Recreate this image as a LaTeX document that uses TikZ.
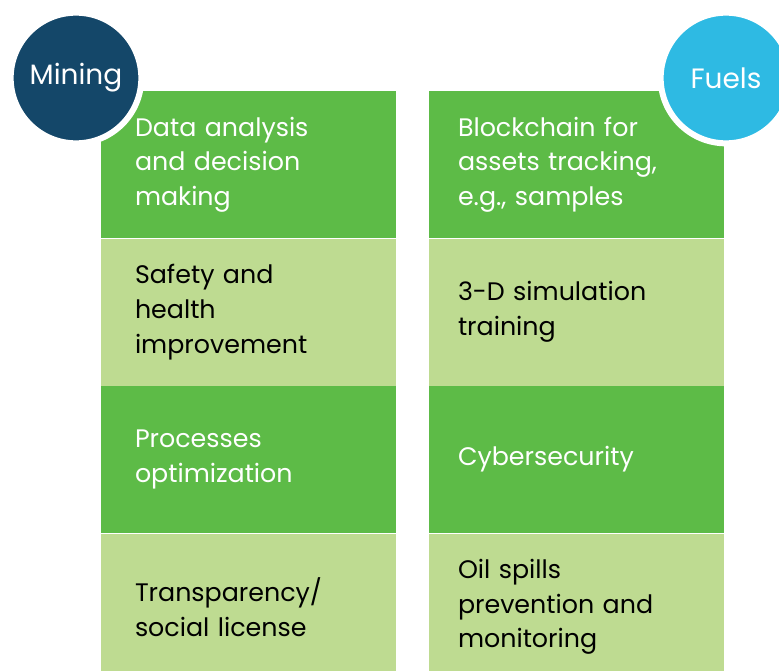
\documentclass[tikz,border=0pt]{standalone}
\usepackage{fontspec}
\setmainfont{Poppins}
\usetikzlibrary{positioning}
\definecolor{leafdark}{HTML}{5DBB47}
\definecolor{leaflight}{HTML}{BEDB91}
\definecolor{navyblue}{HTML}{144769}
\definecolor{skyblue}{HTML}{2EBAE3}
\newcommand\cellfont[0]{\fontsize{19pt}{26pt}\selectfont}

\begin{document}
\begin{tikzpicture}[x=0.75pt,y=-0.75pt,
  cell/.style={rectangle, minimum width=221.25pt, minimum height=110.25pt, inner ysep=0pt, align=left, font=\cellfont},
  darkcell/.style={cell, fill=leafdark, text=white},
  lightcell/.style={cell, fill=leaflight, text=black},
  lefttext/.style={inner xsep=25.5pt, text width=170.25pt},
  righttext/.style={inner xsep=21.75pt, text width=177.75pt},
  badge/.style={circle, minimum size=98pt, inner sep=0pt, draw=white, line width=4.5pt, text=white, font=\fontsize{21pt}{24pt}\selectfont}]

\useasboundingbox (0,0) rectangle (779,671);

% mining column
\node[darkcell, lefttext] (m1) at (248.5,164.5) {Data analysis\\and decision\\making};
\node[lightcell, lefttext, below=0pt of m1] (m2) {Safety and\\health\\improvement};
\node[darkcell, lefttext, below=0pt of m2] (m3) {Processes\\optimization};
\node[lightcell, lefttext, below=0pt of m3] (m4) {Transparency/\\social license};

% fuels column
\node[darkcell, righttext] (f1) at (576.5,164.5) {Blockchain for\\assets tracking,\\e.g., samples};
\node[lightcell, righttext, below=0pt of f1] (f2) {3-D simulation\\training};
\node[darkcell, righttext, below=0pt of f2] (f3) {Cybersecurity};
\node[lightcell, righttext, below=0pt of f3] (f4) {Oil spills\\prevention and\\monitoring};

% badges
\node[badge, fill=navyblue] (mining) at (76,78) {Mining};
\node[badge, fill=skyblue] (fuels) at (726,78) {Fuels};

\end{tikzpicture}
\end{document}
